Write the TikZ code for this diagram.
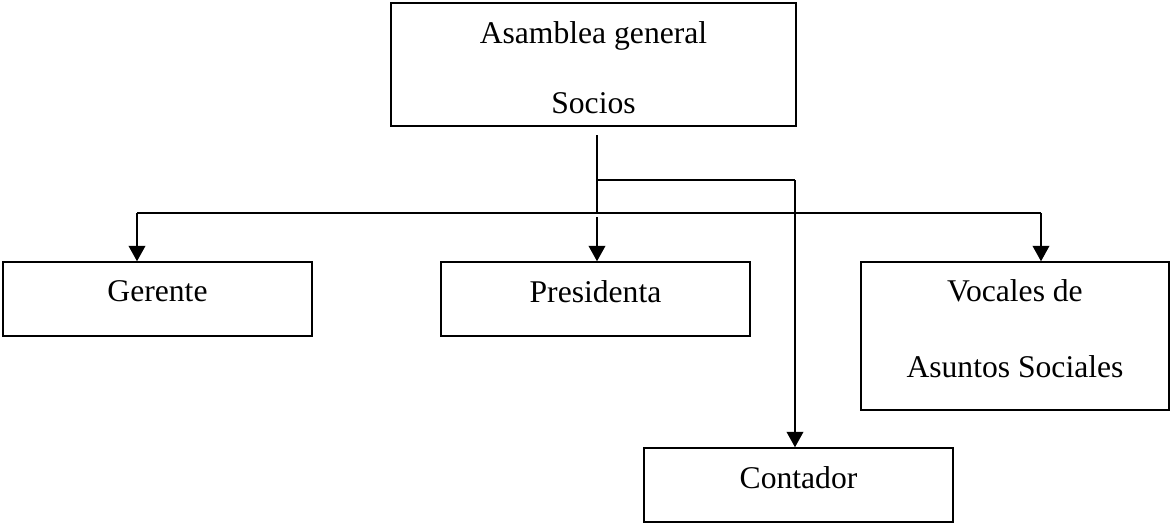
\documentclass[tikz,border=0pt]{standalone}
\usepackage{fontspec}
\setmainfont{Liberation Serif}
\usetikzlibrary{arrows.meta}
\tikzset{
  puesto/.style={draw, line width=0.8pt, minimum width=6.18cm, minimum height=1.48cm,
    inner sep=0pt, text depth=0.3cm, align=center, font=\fontsize{18}{43.8}\selectfont},
  linea/.style={line width=1pt},
  flecha/.style={line width=1.3pt, -{Triangle[width=0.33cm,length=0.31cm]}}
}
\begin{document}
\begin{tikzpicture}[x=0.02cm, y=-0.02cm]
      \useasboundingbox (0,0) rectangle (1170,524);
      \node[puesto, minimum width=8.1cm, minimum height=2.46cm, text height=1.96cm, text depth=0pt,
        font=\fontsize{18}{39.8}\selectfont] (asamblea) at (593.5,64.5) {Asamblea general\\Socios};
      \node[puesto] (gerente) at (157.5,299) {Gerente};
      \node[puesto] (presidenta) at (595.5,299) {Presidenta};
      \node[puesto, minimum width=6.16cm, minimum height=2.96cm] (vocales) at (1015,336) {Vocales de\\Asuntos Sociales};
      \node[puesto] (contador) at (798.5,485) {Contador};
      \coordinate (tronco) at (597,135);
      \coordinate (rama) at (597,180);
      \coordinate (cruce) at (597,213);
      \coordinate (izq) at (137,213);
      \coordinate (der) at (1041,213);
      \coordinate (quiebre) at (795,180);
      \begin{scope}[linea]
        \draw (tronco) to (cruce);
        \draw (izq) to (der);
        \draw (rama) to (quiebre);
      \end{scope}
      \begin{scope}[flecha]
        \draw (izq) to (izq |- gerente.north);
        \draw (cruce) ++(0,4) to (cruce |- presidenta.north);
        \draw (der) to (der |- vocales.north);
        \draw (quiebre) to (quiebre |- contador.north);
      \end{scope}
    \end{tikzpicture}
\end{document}
